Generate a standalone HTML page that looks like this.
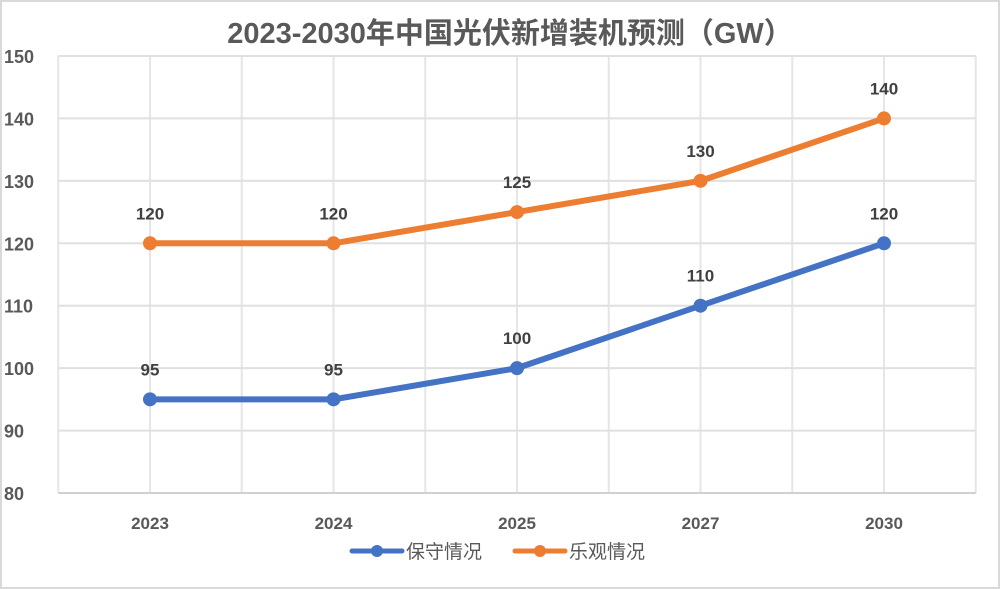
<!DOCTYPE html>
<html><head><meta charset="utf-8"><style>
body{margin:0;background:#fff;}
svg{display:block;font-family:"Liberation Sans","Noto Sans CJK SC",sans-serif;}
</style></head><body>
<svg id="chart" width="1000" height="589">
<rect x="1" y="1" width="998" height="587" fill="#fff" stroke="#d9d9d9" stroke-width="2"/>
<text x="510" y="43" text-anchor="middle" font-size="29" font-weight="bold" fill="#595959">2023-2030年中国光伏新增装机预测（GW）</text>
<g id="grid"></g><g id="axes"></g><g id="series"></g>
<g>
<g>
<line x1="352" y1="551" x2="402" y2="551" stroke="#4472c4" stroke-width="5" stroke-linecap="round"/>
<circle cx="377" cy="551" r="6" fill="#4472c4"/>
<text x="406" y="558" font-size="19" fill="#595959">保守情况</text></g>
<g>
<line x1="515" y1="551" x2="565" y2="551" stroke="#ed7d31" stroke-width="5" stroke-linecap="round"/>
<circle cx="540" cy="551" r="6" fill="#ed7d31"/>
<text x="569" y="558" font-size="19" fill="#595959">乐观情况</text></g>
</g>
</svg>
<script>
const categories=["2023","2024","2025","2027","2030"];
const conservative=[95,95,100,110,120];
const optimistic=[120,120,125,130,140];
const yTicks=[80,90,100,110,120,130,140,150];
const NS="http://www.w3.org/2000/svg";
const L=58.25,R=975.75,T=56,B=493,ymin=80,ymax=150;
const bw=(R-L)/categories.length;
const xs=i=>L+bw*(i+0.5);
const ys=v=>B-(v-ymin)/(ymax-ymin)*(B-T);
function mk(tag,at,parent){const e=document.createElementNS(NS,tag);for(const k in at)e.setAttribute(k,at[k]);parent.appendChild(e);return e;}
const grid=document.getElementById('grid'),axes=document.getElementById('axes'),ser=document.getElementById('series');
for(let i=0;i<=categories.length*2;i++){const x=L+bw/2*i;
const g=mk('line',{x1:x,x2:x,y1:T,y2:B,stroke:'#e6e6e6','stroke-width':2},grid);

}
yTicks.forEach(v=>{const y=ys(v);
const g=mk('line',{x1:L,x2:R,y1:y,y2:y,stroke:v===ymin?'#d0d0d0':'#e0e0e0','stroke-width':2},grid);


const t=mk('text',{x:4,y:y+7,'font-size':18,'font-weight':'bold',fill:'#595959'},axes);t.textContent=v;

});
categories.forEach((c,i)=>{const t=mk('text',{x:xs(i),y:529,'text-anchor':'middle','font-size':17,'font-weight':'bold',fill:'#595959'},axes);t.textContent=c;

});
[[conservative,'#4472c4','conservative'],[optimistic,'#ed7d31','optimistic']].forEach(([d,col,nm])=>{
const p=mk('polyline',{points:d.map((v,i)=>xs(i)+','+ys(v)).join(' '),fill:'none',stroke:col,'stroke-width':6,'stroke-linejoin':'round'},ser);


d.forEach((v,i)=>{const c=mk('circle',{cx:xs(i),cy:ys(v),r:7,fill:col},ser);


const t=mk('text',{x:xs(i),y:ys(v)-24,'text-anchor':'middle','font-size':17,'font-weight':'bold',fill:'#404040'},ser);t.textContent=v;

});});
</script>
</body></html>
